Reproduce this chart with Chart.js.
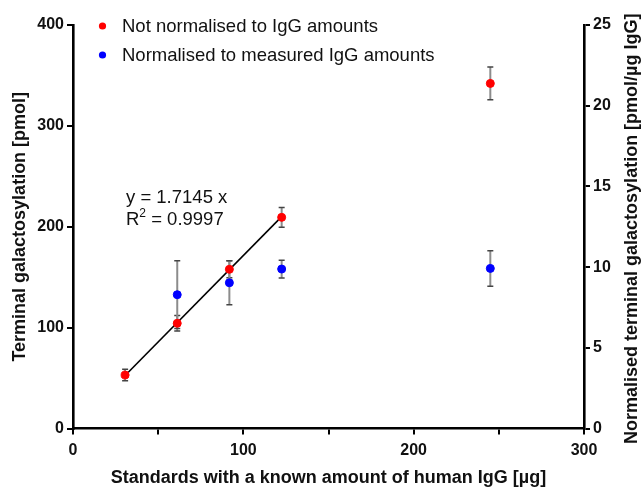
<!DOCTYPE html>
<html>
<head>
<meta charset="utf-8">
<script src="https://cdn.jsdelivr.net/npm/chart.js@4"></script>
<style>
html,body{margin:0;padding:0;background:#fff;}
#wrap{width:641px;height:489px;}
</style>
</head>
<body>
<div id="wrap"><canvas id="c" width="641" height="489"></canvas></div>
<script>
// ---- data ----
const amounts = [30.6, 61.2, 91.8, 122.5, 245];          // µg IgG
const notNorm = [53.0, 104.3, 157.8, 209.3, 342.1];       // pmol
const notNormErr = [5.7, 7.7, 8.4, 9.9, 16.2];
const normAmounts = [61.2, 91.8, 122.5, 245];
const norm = [8.29, 9.03, 9.88, 9.92];                    // pmol/µg IgG
const normErr = [2.1, 1.37, 0.55, 1.1];
const fitX = [30.6, 122.5];
const fitY = [52.5, 210.0];
const xTicks = [0, 100, 200, 300];
const legendLabels = ['Not normalised to IgG amounts', 'Normalised to measured IgG amounts'];
const eqLines = ['y = 1.7145 x', '= 0.9997'];
const rightTitle = 'Normalised terminal galactosylation [pmol/µg IgG]';

const RED = 'rgb(255,0,0)';
const BLUE = 'rgb(0,0,255)';
const FONT = '"Liberation Sans", Arial, sans-serif';

const errorBars = {
  id: 'errorBars',
  beforeDatasetsDraw(chart) {
    const ctx = chart.ctx;
    const xs = chart.scales.x;
    const draw = (xv, yv, e, ys) => {
      const px = xs.getPixelForValue(xv);
      const top = ys.getPixelForValue(yv + e);
      const bot = ys.getPixelForValue(yv - e);
      ctx.save();
      ctx.strokeStyle = '#8c8c8c';
      ctx.lineWidth = 2;
      ctx.beginPath(); ctx.moveTo(px, top); ctx.lineTo(px, bot); ctx.stroke();
      ctx.strokeStyle = '#444';
      ctx.lineWidth = 1.5;
      ctx.beginPath();
      ctx.moveTo(px - 3, top); ctx.lineTo(px + 3, top);
      ctx.moveTo(px - 3, bot); ctx.lineTo(px + 3, bot);
      ctx.stroke();
      ctx.restore();
    };
    amounts.forEach((a, i) => draw(a, notNorm[i], notNormErr[i], chart.scales.y));
    normAmounts.forEach((a, i) => draw(a, norm[i], normErr[i], chart.scales.y2));
  }
};

const annotations = {
  id: 'annotations',
  afterDraw(chart) {
    const ctx = chart.ctx;
    const ca = chart.chartArea;
    ctx.save();
    // legend
    const cols = [RED, BLUE];
    const ys = [26, 55];
    ctx.font = '18.5px ' + FONT;
    ctx.textBaseline = 'middle';
    ctx.textAlign = 'left';
    legendLabels.forEach((t, i) => {
      ctx.fillStyle = cols[i];
      ctx.beginPath(); ctx.arc(102.5, ys[i], 3.6, 0, Math.PI * 2); ctx.fill();
      ctx.fillStyle = '#111';
      ctx.fillText(t, 122, ys[i] + 1);
    });
    // equation
    ctx.font = '18.5px ' + FONT;
    ctx.fillStyle = '#111';
    ctx.fillText(eqLines[0], 126, 198);
    ctx.fillText('R', 126, 220);
    const rw = ctx.measureText('R').width;
    ctx.font = '12px ' + FONT;
    ctx.fillText('2', 126 + rw, 214);
    const sw = ctx.measureText('2').width;
    ctx.font = '18.5px ' + FONT;
    ctx.fillText(' ' + eqLines[1], 126 + rw + sw, 220);
    // right axis title (reads bottom to top)
    ctx.translate(632, (ca.top + ca.bottom) / 2 + 2);
    ctx.rotate(-Math.PI / 2);
    ctx.textAlign = 'center';
    ctx.font = 'bold 18px ' + FONT;
    ctx.fillText(rightTitle, 0, 0);
    ctx.restore();
  }
};

const axisCommon = {
  border: { display: true, color: '#000', width: 2.6 },
  grid: { display: true, drawOnChartArea: false, drawTicks: true, tickLength: 6, color: '#000', lineWidth: 2 },
};
const tickFont = { family: FONT, size: 16, weight: 'bold' };
const titleFont = { family: FONT, size: 18, weight: 'bold' };

new Chart(document.getElementById('c'), {
  type: 'scatter',
  data: {
    datasets: [
      {
        label: legendLabels[0],
        data: amounts.map((a, i) => ({ x: a, y: notNorm[i] })),
        yAxisID: 'y',
        backgroundColor: RED, borderColor: RED,
        pointRadius: 4, pointHoverRadius: 4, order: 1
      },
      {
        label: legendLabels[1],
        data: normAmounts.map((a, i) => ({ x: a, y: norm[i] })),
        yAxisID: 'y2',
        backgroundColor: BLUE, borderColor: BLUE,
        pointRadius: 4, pointHoverRadius: 4, order: 2
      },
      {
        label: 'fit',
        type: 'line',
        data: fitX.map((a, i) => ({ x: a, y: fitY[i] })),
        yAxisID: 'y',
        borderColor: '#000', borderWidth: 1.6,
        pointRadius: 0, showLine: true, fill: false, order: 3
      }
    ]
  },
  options: {
    responsive: false,
    animation: false,
    devicePixelRatio: 1,
    layout: { padding: { top: 25, left: 0, right: 0, bottom: 0 } },
    plugins: { legend: { display: false }, tooltip: { enabled: false } },
    scales: {
      x: {
        type: 'linear', min: 0, max: 300,
        ...axisCommon,
        afterFit(s) { s.height = 60.5; },
        afterBuildTicks(s) { s.ticks = [0, 50, 100, 150, 200, 250, 300].map(v => ({ value: v })); },
        ticks: {
          color: '#111', font: tickFont, padding: 6, maxRotation: 0,
          callback: v => (xTicks.includes(v) ? String(v) : '')
        },
        title: {
          display: true, text: 'Standards with a known amount of human IgG [µg]',
          color: '#111', font: titleFont, padding: { top: 0, bottom: 0 }
        }
      },
      y: {
        type: 'linear', position: 'left', min: 0, max: 400,
        ...axisCommon,
        afterFit(s) { s.width = 73; },
        ticks: { stepSize: 100, color: '#111', font: tickFont, padding: 3 },
        title: {
          display: true, text: 'Terminal galactosylation [pmol]',
          color: '#111', font: titleFont, padding: { top: 9, bottom: 0 }
        }
      },
      y2: {
        type: 'linear', position: 'right', min: 0, max: 25,
        ...axisCommon,
        afterFit(s) { s.width = 57; },
        ticks: { stepSize: 5, color: '#111', font: tickFont, padding: 3 },
        title: { display: false }
      }
    }
  },
  plugins: [errorBars, annotations]
});
</script>
</body>
</html>
